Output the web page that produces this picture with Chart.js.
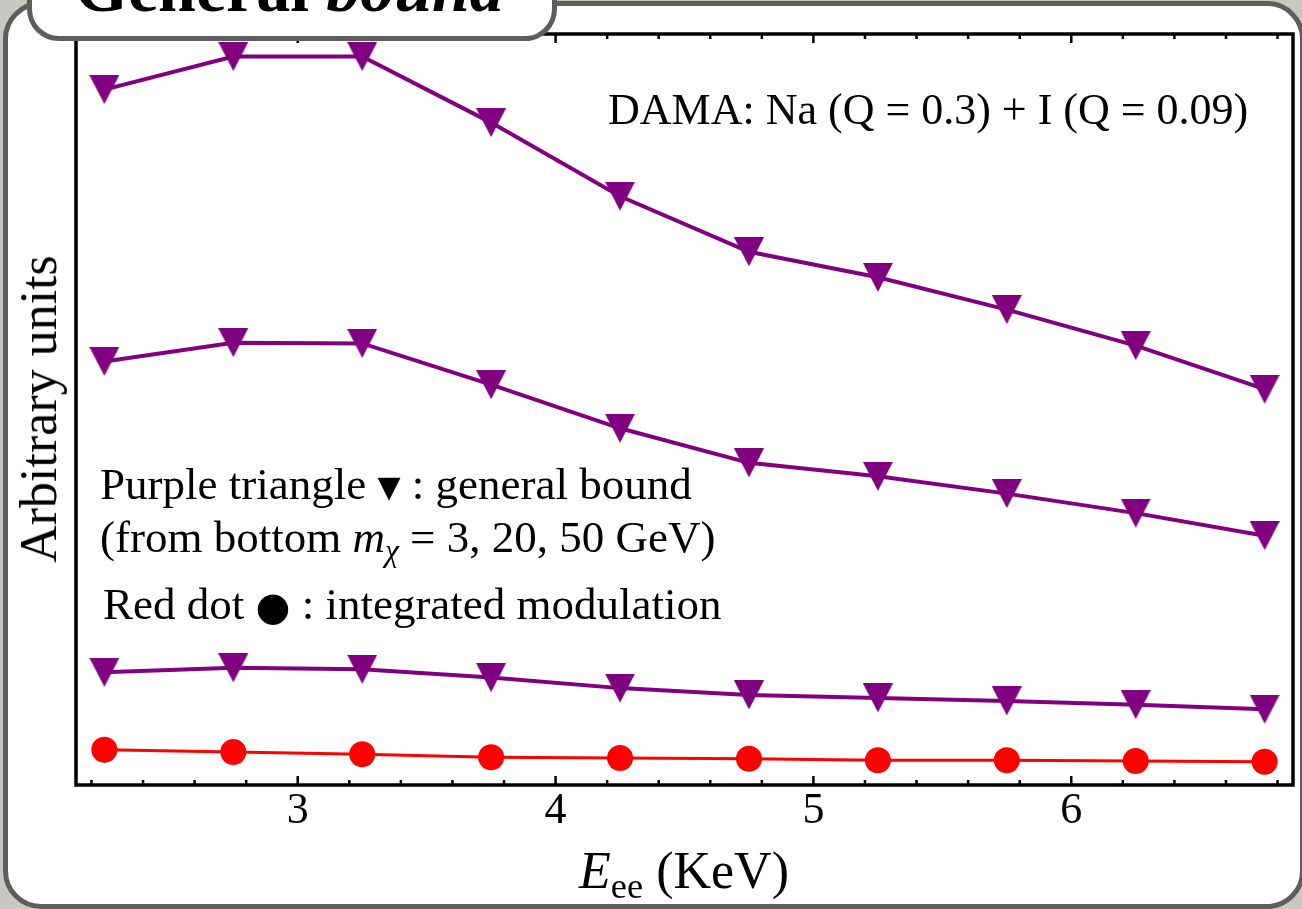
<!DOCTYPE html>
<html>
<head>
<meta charset="utf-8">
<script src="https://cdn.jsdelivr.net/npm/chart.js@4.4.0/dist/chart.umd.min.js"></script>
<style>
html, body { margin: 0; padding: 0; }
body {
    width: 1302px; height: 909px; overflow: hidden; position: relative;
    background: #c8c8c3;
    font-family: "Liberation Serif", "Times New Roman", serif; color: #000;
}
#panel {
    position: absolute; left: 3px; top: 1px; width: 1302px; height: 908px;
    box-sizing: border-box; border: 5px solid #5e5e5e; border-radius: 38px; background: #fff;
}
#chartStock { position: absolute; left: 0; top: 0; }
#tab {
    position: absolute; left: 27px; top: -60px; width: 530px; height: 101px;
    box-sizing: border-box; border: 5px solid #5e5e5e; border-radius: 32px; background: #fff;
}
#tabText { position: absolute; left: 75px; top: -46px; font-size: 68px; line-height: 1; font-weight: bold; white-space: nowrap; }
.note { position: absolute; font-size: 45px; line-height: 1; white-space: nowrap; }
.note sub, .axisTitle sub { font-size: 70%; line-height: 0; vertical-align: -0.28em; }
.axisTitle { position: absolute; font-size: 52px; line-height: 1; white-space: nowrap; }
#yTitle { left: 39px; top: 409px; transform: translate(-50%, -50%) rotate(-90deg); }
#xTitle { left: 684px; top: 845px; transform: translateX(-50%); }
.sym { font-family: "DejaVu Sans", sans-serif; font-size: 30px; vertical-align: 0.08em; }
.dot { font-family: "DejaVu Sans", sans-serif; font-size: 40px; vertical-align: -0.02em; }
</style>
</head>
<body>
<div id="panel"></div>
<canvas id="chartStock" width="1302" height="909"></canvas>
<div id="tab"></div>
<div id="tabText">General <i>bound</i></div>

<div class="note" style="left:608px; top:88px; font-size:44px;">DAMA: Na (Q = 0.3) + I (Q = 0.09)</div>
<div class="note" style="left:100px; top:462px;">Purple triangle <span class="sym">▼</span> : general bound</div>
<div class="note" style="left:100px; top:515px;">(from bottom <i>m</i><sub><i>χ</i></sub> = 3, 20, 50 GeV)</div>
<div class="note" style="left:103px; top:582px;">Red dot <span class="dot">●</span> : integrated modulation</div>

<div class="axisTitle" id="yTitle">Arbitrary units</div>
<div class="axisTitle" id="xTitle"><i>E</i><sub>ee</sub> (KeV)</div>

<script>
// energy bins (KeV)
const energies = [2.25, 2.75, 3.25, 3.75, 4.25, 4.75, 5.25, 5.75, 6.25, 6.75];

// general bound, m_chi = 50, 20, 3 GeV
const bound50 = [92.6, 97.0, 97.0, 88.2, 78.4, 71.0, 67.6, 63.3, 58.5, 52.7];
const bound20 = [56.4, 58.9, 58.8, 53.3, 47.5, 42.9, 41.1, 38.8, 36.2, 33.2];
const bound3 = [15.0, 15.6, 15.4, 14.3, 12.9, 12.0, 11.6, 11.2, 10.7, 10.1];

// integrated modulation
const modulation = [4.7, 4.4, 4.1, 3.7, 3.6, 3.5, 3.3, 3.3, 3.2, 3.1];

const majorTicks = [3, 4, 5, 6];
const minorTicks = [2.2, 2.4, 2.6, 2.8, 3.2, 3.4, 3.6, 3.8, 4.2, 4.4, 4.6, 4.8,
    5.2, 5.4, 5.6, 5.8, 6.2, 6.4, 6.6, 6.8];

const xRange = [2.14, 6.86];
const yRange = [0, 100];

function toPoints(values) {
    return energies.map((e, i) => ({ x: e, y: values[i] }))
}

// filled down-pointing triangle, centred on its bounding box
function downTriangle(w, h, color) {
    let c = document.createElement('canvas');
    c.width = w;
    c.height = h;
    let g = c.getContext('2d');
    g.fillStyle = color;
    g.beginPath();
    g.moveTo(0, 0);
    g.lineTo(w, 0);
    g.lineTo(w / 2, h);
    g.closePath();
    g.fill();
    return c;
}

const purple = 'rgb(128,0,128)';
const red = 'rgb(255,0,0)';
const tri = downTriangle(30, 29, purple);

function boundSet(label, values) {
    return {
        label: label,
        data: toPoints(values),
        borderColor: purple,
        borderWidth: 4,
        pointStyle: tri,
        pointRadius: 15,
        tension: 0,
    }
}

// frame with inward ticks on top and bottom
const frameTicks = {
    id: 'frameTicks',
    beforeDatasetsDraw(chart) {
        let ctx = chart.ctx;
        let a = chart.chartArea;
        let x = chart.scales.x;
        ctx.save();
        ctx.strokeStyle = '#000';
        ctx.lineWidth = 2.5;
        ctx.beginPath();
        majorTicks.forEach(v => {
            let px = x.getPixelForValue(v);
            ctx.moveTo(px, a.bottom); ctx.lineTo(px, a.bottom - 9);
            ctx.moveTo(px, a.top); ctx.lineTo(px, a.top + 9);
        })
        minorTicks.forEach(v => {
            let px = x.getPixelForValue(v);
            ctx.moveTo(px, a.bottom); ctx.lineTo(px, a.bottom - 5);
            ctx.moveTo(px, a.top); ctx.lineTo(px, a.top + 5);
        })
        ctx.stroke();
        ctx.lineWidth = 3.5;
        ctx.strokeRect(a.left, a.top, a.right - a.left, a.bottom - a.top);
        ctx.restore();
    }
};

var myChart = new Chart(document.getElementById('chartStock').getContext('2d'), {
    type: 'line',
    data: {
        datasets: [
            boundSet('50 GeV', bound50),
            boundSet('20 GeV', bound20),
            boundSet('3 GeV', bound3),
            {
                label: 'modulation',
                data: toPoints(modulation),
                borderColor: red,
                borderWidth: 3,
                pointStyle: 'circle',
                pointRadius: 13,
                pointBorderWidth: 0,
                pointBackgroundColor: red,
                tension: 0,
            }
        ]
    },
    options: {
        responsive: false,
        animation: false,
        devicePixelRatio: 1,
        layout: { autoPadding: false, padding: { left: 76, right: 9, top: 34, bottom: 0 } },
        plugins: { legend: { display: false }, tooltip: { enabled: false } },
        scales: {
            x: {
                type: 'linear',
                min: xRange[0],
                max: xRange[1],
                grid: { display: false, drawTicks: false },
                border: { display: false },
                ticks: {
                    padding: 0,
                    includeBounds: false,
                    color: '#000',
                    font: { family: 'Liberation Serif', size: 44 },
                },
                afterBuildTicks(scale) {
                    scale.ticks = majorTicks.map(v => ({ value: v }))
                },
                afterFit(scale) {
                    scale.height = 124;
                    scale.paddingLeft = 0;
                    scale.paddingRight = 0;
                }
            },
            y: {
                type: 'linear',
                min: yRange[0],
                max: yRange[1],
                display: false
            }
        }
    },
    plugins: [frameTicks]
});
</script>
</body>
</html>
